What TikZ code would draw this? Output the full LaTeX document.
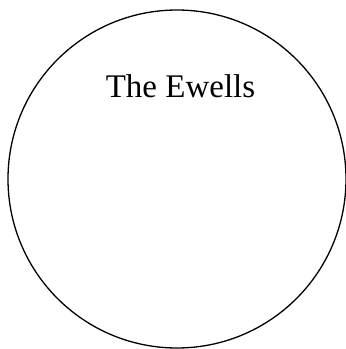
\documentclass[tikz,border=0pt]{standalone}
\usepackage{fontspec}
\setmainfont{Liberation Serif}

\begin{document}
\begin{tikzpicture}[x=1pt,y=-1pt]
  \useasboundingbox (0,0) rectangle (346,349);
  \node[circle,draw,line width=1.3pt,minimum size=338pt,inner sep=0pt] (ewells) at (177,179) {};
  \node[anchor=base,font=\fontsize{33}{40}\selectfont] (name) at (180.5,97.5) {The Ewells};
\end{tikzpicture}
\end{document}
